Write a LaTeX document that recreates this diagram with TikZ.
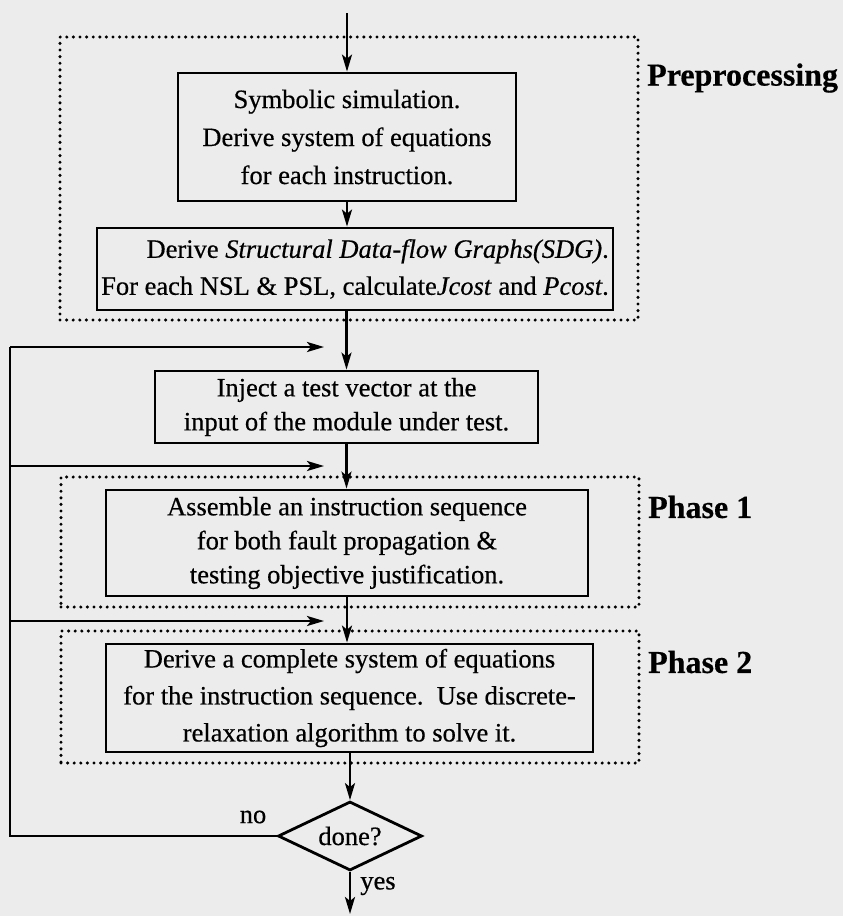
\documentclass[tikz,border=0pt]{standalone}
\usepackage{fontspec}
\setmainfont{Liberation Serif}[FakeBold=0.5]
\usetikzlibrary{shapes.geometric,arrows.meta,calc}
\definecolor{paper}{RGB}{236,236,236}
\newcommand\bodyfs{\fontsize{26.5}{34}\selectfont}
\newcommand\labfs{\fontsize{32}{38}\selectfont\bfseries}
\begin{document}
\begin{tikzpicture}[x=1pt,y=-1pt,
 proc/.style={draw, line width=2.8pt, align=center, inner sep=0pt, font=\bodyfs},
 grp/.style={draw, line width=3.4pt, line cap=round, dash pattern=on 0pt off 6.6pt},
 conn/.style={line width=2.6pt, -{Stealth[length=17pt,width=10pt,inset=4pt]}},
 wire/.style={line width=2.6pt},
 lab/.style={font=\labfs, anchor=west, inner sep=0pt},
 small/.style={font=\bodyfs, inner sep=0pt}]
\fill[paper] (0,0) rectangle (843,916);
\useasboundingbox (0,0) rectangle (843,916);

% group frames
\node[grp, minimum width=578pt, minimum height=283pt] (prep) at (349,178.5) {};
\node[grp, minimum width=578pt, minimum height=130pt] (ph1) at (350,542) {};
\node[grp, minimum width=578pt, minimum height=132pt] (ph2) at (350,697) {};

% process boxes
\node[proc, font=\fontsize{26.5}{38}\selectfont, minimum width=338pt, minimum height=128pt] (box1) at (347,137)
 {Symbolic simulation.\\Derive system of equations\\for each instruction.};
\node[proc, align=right, font=\fontsize{26.5}{37}\selectfont, minimum width=516pt, minimum height=82pt] (box2) at (355,269)
 {Derive \textit{Structural Data-flow Graphs(SDG)}.\\For each NSL \& PSL, calculate\textit{Jcost} and \textit{Pcost}.};
\node[proc, minimum width=383pt, minimum height=72pt] (box3) at (346.5,407)
 {Inject a test vector at the\\input of the module under test.};
\node[proc, minimum width=482pt, minimum height=106pt] (box4) at (347,543)
 {Assemble an instruction sequence\\for both fault propagation \&\\testing objective justification.};
\node[proc, font=\fontsize{26.5}{37}\selectfont, minimum width=487pt, minimum height=108pt] (box5) at (349.5,698)
 {Derive a complete system of equations\\for the instruction sequence.\ \ Use discrete-\\relaxation algorithm to solve it.};
\node[draw, diamond, line width=2.8pt, aspect=2, inner sep=0pt, minimum width=144pt, minimum height=69pt, font=\bodyfs] (dec) at (350,836) {done?};

% labels
\node[lab] (lprep) at (647,78) {Preprocessing};
\node[lab] (lph1) at (648,507) {Phase 1};
\node[lab] (lph2) at (648,662) {Phase 2};
\node[small] (lno) at (253,817) {no};
\node[small] (lyes) at (378,886) {yes};

% coordinates
\coordinate (start) at (347,13);
\coordinate (finish) at (350,914);
\coordinate (fbTop) at (10,347);
\coordinate (fb1) at (324,347);
\coordinate (fb2) at (324,466);
\coordinate (fb3) at (324,621);

% connectors
\draw[conn] (start) -- (start |- box1.north);
\draw[conn] (box1.south) -- (box1.south |- box2.north);
\draw[conn] (box2.south -| box3.north) -- (box3.north);
\draw[conn] (box3.south) -- (box3.south |- box4.north);
\draw[conn] (box4.south) -- (box4.south |- box5.north);
\draw[conn] (box5.south -| dec.north) -- (dec.north);
\draw[conn] (dec.south) -- (finish);

% feedback
\draw[wire] (dec.west) -| (fbTop);
\draw[conn] (fbTop) -- (fb1);
\draw[conn] (fbTop |- fb2) -- (fb2);
\draw[conn] (fbTop |- fb3) -- (fb3);
\end{tikzpicture}
\end{document}
